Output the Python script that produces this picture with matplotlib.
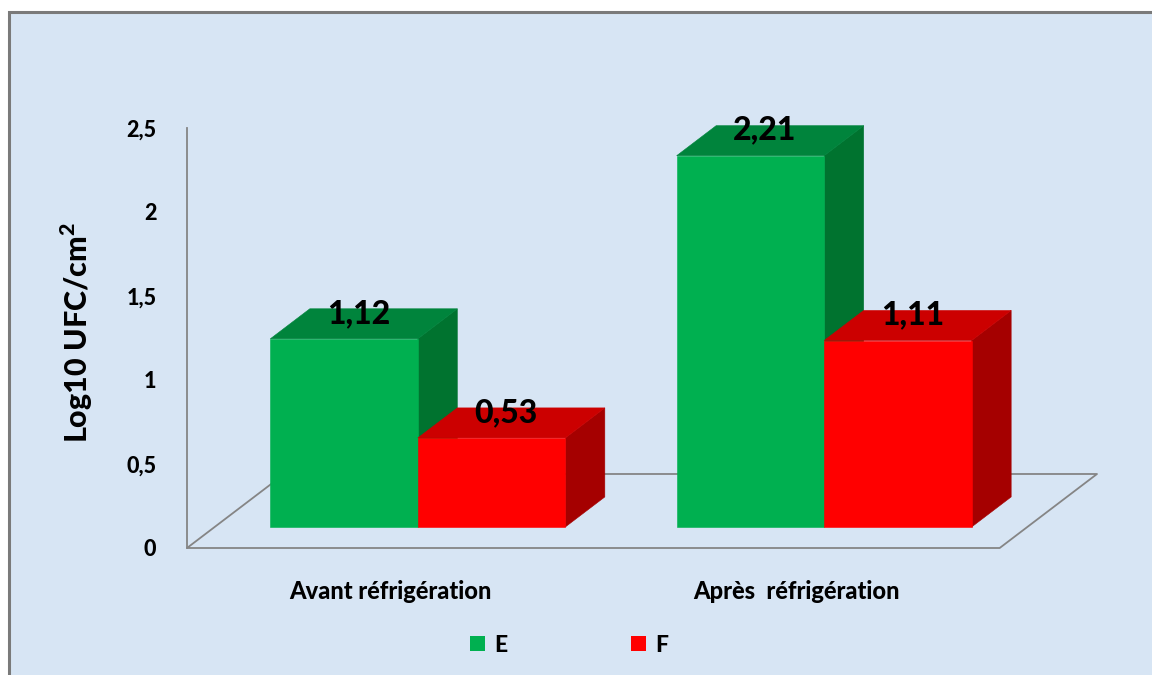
import matplotlib.pyplot as plt
from matplotlib.patches import Polygon, Patch, Rectangle

# data
categories = ['Avant réfrigération', 'Après  réfrigération']
series_names = ['E', 'F']
values_e = [1.12, 2.21]
values_f = [0.53, 1.11]
yticks = [0, 0.5, 1, 1.5, 2, 2.5]
ytick_labels = ['0', '0,5', '1', '1,5', '2', '2,5']

# colours: front, top, side
colors_e = ('#00b050', '#00843c', '#00732f')
colors_f = ('#ff0000', '#cc0000', '#a50000')
bg_color = '#d7e5f4'
line_color = '#858585'

plt.rcParams['font.family'] = ['Lato', 'DejaVu Sans']
plt.rcParams['font.weight'] = 'black'
plt.rcParams['mathtext.fontset'] = 'custom'
plt.rcParams['mathtext.rm'] = 'Lato:black'
plt.rcParams['mathtext.bf'] = 'Lato:black'

# pseudo 3d geometry (data units)
bar_w = 0.363
floor_dx, floor_dy = 0.2395, 0.4405
bar_front, bar_back = 0.284, 0.69
fx, fy = floor_dx * bar_front, floor_dy * bar_front
bx, by = floor_dx * (bar_back - bar_front), floor_dy * (bar_back - bar_front)


def draw_box(ax, x0, v, cols, label):
    front = [(x0 + fx, fy), (x0 + bar_w + fx, fy),
             (x0 + bar_w + fx, v + fy), (x0 + fx, v + fy)]
    top = [(x0 + fx, v + fy), (x0 + bar_w + fx, v + fy),
           (x0 + bar_w + fx + bx, v + fy + by), (x0 + fx + bx, v + fy + by)]
    side = [(x0 + bar_w + fx, fy), (x0 + bar_w + fx + bx, fy + by),
            (x0 + bar_w + fx + bx, v + fy + by), (x0 + bar_w + fx, v + fy)]
    for pts, c in zip([side, top, front], [cols[2], cols[1], cols[0]]):
        ax.add_patch(Polygon(pts, closed=True, facecolor=c, edgecolor=c,
                             lw=0.4, zorder=3, clip_on=False))
    ax.text(x0 + fx + bar_w / 2 + bx * 0.37, v + fy + by * 0.85, label,
            ha='center', va='center', fontsize=23, fontweight='black',
            color='black', zorder=5, clip_on=False)


def fmt(v):
    return f'{v:.2f}'.replace('.', ',')


fig = plt.figure(figsize=(11.52, 6.75), dpi=100, facecolor='white')

# blue panel with grey frame
panel = Rectangle((9 / 1152, -0.05), 1.05, 1 - 12 / 675 + 0.05,
                  transform=fig.transFigure, facecolor=bg_color,
                  edgecolor='#7a7a7a', lw=2.2, zorder=-10)
fig.add_artist(panel)

ax = fig.add_axes([187 / 1152, 1 - 548 / 675, 910 / 1152, 420 / 675])
ax.set_zorder(1)
ax.set_facecolor('none')
ax.set_xlim(-0.5, 1.5 + floor_dx)
ax.set_ylim(0, 2.5)

# floor outline
x_left, x_right = -0.5, 1.5
floor_x = [x_left + floor_dx, x_left, x_right, x_right + floor_dx, x_left + floor_dx]
floor_y = [floor_dy, 0, 0, floor_dy, floor_dy]
ax.plot(floor_x, floor_y, color=line_color, lw=1.3, zorder=1, clip_on=False)

for i in range(len(categories)):
    draw_box(ax, i - bar_w, values_e[i], colors_e, fmt(values_e[i]))
    draw_box(ax, i, values_f[i], colors_f, fmt(values_f[i]))

for side in ['top', 'right', 'bottom']:
    ax.spines[side].set_visible(False)
ax.spines['left'].set_color(line_color)
ax.spines['left'].set_linewidth(1.3)

ax.set_yticks(yticks)
ax.set_yticklabels(ytick_labels, fontsize=15.5, fontweight='black')
ax.set_xticks(range(len(categories)))
ax.set_xticklabels(categories, fontsize=17, fontweight='black')
ax.tick_params(axis='y', length=0, pad=22)
ax.tick_params(axis='x', length=0, pad=23)

ax.set_ylabel(r'Log10 UFC/cm$^{\mathbf{2}}$', fontsize=22, fontweight='black')
ax.yaxis.set_label_coords(-0.101, 0.514)

handles = [Patch(facecolor=colors_e[0]), Patch(facecolor=colors_f[0])]
fig.legend(handles, series_names, loc='center', bbox_to_anchor=(569 / 1152, 1 - 645 / 675),
           ncol=2, frameon=False, handlelength=0.65, handleheight=0.65,
           handletextpad=0.4, columnspacing=5.4,
           prop={'size': 16.5, 'weight': 'black'})

plt.savefig('out.png', dpi=100)
